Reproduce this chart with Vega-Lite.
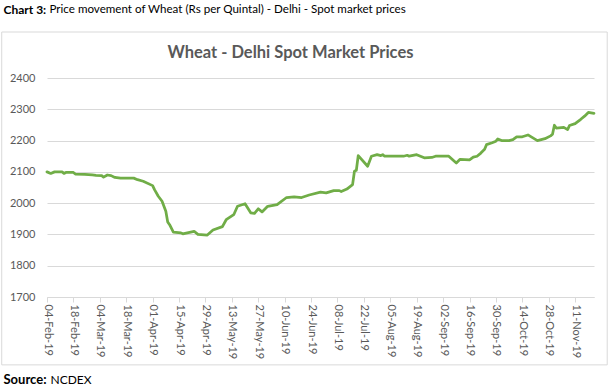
{
  "$schema": "https://vega.github.io/schema/vega-lite/v6.json",
  "width": 547,
  "height": 219,
  "autosize": "none",
  "padding": {"left": 47, "top": 78, "right": 19, "bottom": 91},
  "background": "white",
  "config": {"view": {"stroke": null}, "font": "Lato"},
  "title": {
    "text": "Wheat - Delhi Spot Market Prices",
    "font": "Lato",
    "fontSize": 16.5,
    "fontWeight": "bold",
    "color": "#595959",
    "anchor": "middle",
    "frame": "group",
    "baseline": "bottom",
    "dx": -30,
    "offset": -74
  },
  "layer": [
    {
      "data": {"values": [{"box": "frame"}]},
      "mark": {"type": "rect", "fill": null, "stroke": "#d9d9d9", "strokeWidth": 1},
      "encoding": {
        "x": {
          "datum": {"year": 2019, "month": "jan", "date": 11},
          "type": "temporal",
          "scale": {"domain": [{"year": 2019, "month": "feb", "date": 4}, {"year": 2019, "month": "nov", "date": 21}]},
          "axis": {
            "orient": "top",
            "labels": false,
            "ticks": false,
            "domain": false,
            "grid": false,
            "title": "NCDEX",
            "titleFont": "Lato",
            "titleFontSize": 12,
            "titleFontWeight": "normal",
            "titleColor": "#000000",
            "titleX": 3,
            "titleY": 301,
            "titleAlign": "left",
            "titleAngle": 0,
            "titleBaseline": "middle"
          }
        },
        "x2": {"datum": {"year": 2019, "month": "nov", "date": 28}},
        "y": {
          "datum": 2547,
          "type": "quantitative",
          "scale": {"domain": [1700, 2400], "zero": false, "nice": false},
          "axis": {
            "orient": "right",
            "labels": false,
            "ticks": false,
            "domain": false,
            "grid": false,
            "title": "Price movement of Wheat (Rs per Quintal) - Delhi - Spot market prices",
            "titleFont": "Lato",
            "titleFontSize": 11.6,
            "titleFontWeight": "normal",
            "titleColor": "#000000",
            "titleX": -545,
            "titleY": -69,
            "titleAlign": "left",
            "titleAngle": 0,
            "titleBaseline": "middle"
          }
        },
        "y2": {"datum": 1483}
      }
    },
    {
      "data": {
        "values": [
          {"date": "2019-02-04T00:00:00", "price": 2100},
          {"date": "2019-02-06T00:00:00", "price": 2095},
          {"date": "2019-02-08T00:00:00", "price": 2100},
          {"date": "2019-02-12T00:00:00", "price": 2100},
          {"date": "2019-02-13T00:00:00", "price": 2095},
          {"date": "2019-02-14T00:00:00", "price": 2098},
          {"date": "2019-02-18T00:00:00", "price": 2098},
          {"date": "2019-02-19T00:00:00", "price": 2093},
          {"date": "2019-02-24T00:00:00", "price": 2092},
          {"date": "2019-02-28T00:00:00", "price": 2090},
          {"date": "2019-03-02T00:00:00", "price": 2089},
          {"date": "2019-03-05T00:00:00", "price": 2088},
          {"date": "2019-03-06T00:00:00", "price": 2083},
          {"date": "2019-03-08T00:00:00", "price": 2090},
          {"date": "2019-03-10T00:00:00", "price": 2088},
          {"date": "2019-03-12T00:00:00", "price": 2082},
          {"date": "2019-03-15T00:00:00", "price": 2080},
          {"date": "2019-03-22T00:00:00", "price": 2080},
          {"date": "2019-03-24T00:00:00", "price": 2075},
          {"date": "2019-03-27T00:00:00", "price": 2070},
          {"date": "2019-04-01T00:00:00", "price": 2056},
          {"date": "2019-04-02T00:00:00", "price": 2043},
          {"date": "2019-04-04T00:00:00", "price": 2022},
          {"date": "2019-04-06T00:00:00", "price": 2006},
          {"date": "2019-04-08T00:00:00", "price": 1974},
          {"date": "2019-04-09T00:00:00", "price": 1940},
          {"date": "2019-04-10T00:00:00", "price": 1931},
          {"date": "2019-04-12T00:00:00", "price": 1907},
          {"date": "2019-04-16T00:00:00", "price": 1905},
          {"date": "2019-04-17T00:00:00", "price": 1902},
          {"date": "2019-04-23T00:00:00", "price": 1910},
          {"date": "2019-04-25T00:00:00", "price": 1900},
          {"date": "2019-04-30T00:00:00", "price": 1898},
          {"date": "2019-05-03T00:00:00", "price": 1914},
          {"date": "2019-05-08T00:00:00", "price": 1925},
          {"date": "2019-05-10T00:00:00", "price": 1947},
          {"date": "2019-05-14T00:00:00", "price": 1963},
          {"date": "2019-05-16T00:00:00", "price": 1990},
          {"date": "2019-05-20T00:00:00", "price": 1998},
          {"date": "2019-05-23T00:00:00", "price": 1969},
          {"date": "2019-05-25T00:00:00", "price": 1967},
          {"date": "2019-05-27T00:00:00", "price": 1982},
          {"date": "2019-05-29T00:00:00", "price": 1972},
          {"date": "2019-06-01T00:00:00", "price": 1990},
          {"date": "2019-06-06T00:00:00", "price": 1995},
          {"date": "2019-06-11T00:00:00", "price": 2018},
          {"date": "2019-06-15T00:00:00", "price": 2020},
          {"date": "2019-06-19T00:00:00", "price": 2018},
          {"date": "2019-06-23T00:00:00", "price": 2026},
          {"date": "2019-06-29T00:00:00", "price": 2035},
          {"date": "2019-07-02T00:00:00", "price": 2033},
          {"date": "2019-07-06T00:00:00", "price": 2040},
          {"date": "2019-07-09T00:00:00", "price": 2040},
          {"date": "2019-07-10T00:00:00", "price": 2037},
          {"date": "2019-07-13T00:00:00", "price": 2045},
          {"date": "2019-07-16T00:00:00", "price": 2059},
          {"date": "2019-07-17T00:00:00", "price": 2102},
          {"date": "2019-07-18T00:00:00", "price": 2105},
          {"date": "2019-07-19T00:00:00", "price": 2152},
          {"date": "2019-07-24T00:00:00", "price": 2118},
          {"date": "2019-07-26T00:00:00", "price": 2150},
          {"date": "2019-07-29T00:00:00", "price": 2155},
          {"date": "2019-07-31T00:00:00", "price": 2152},
          {"date": "2019-08-01T00:00:00", "price": 2155},
          {"date": "2019-08-02T00:00:00", "price": 2150},
          {"date": "2019-08-12T00:00:00", "price": 2150},
          {"date": "2019-08-14T00:00:00", "price": 2153},
          {"date": "2019-08-15T00:00:00", "price": 2150},
          {"date": "2019-08-19T00:00:00", "price": 2155},
          {"date": "2019-08-23T00:00:00", "price": 2145},
          {"date": "2019-08-27T00:00:00", "price": 2146},
          {"date": "2019-08-29T00:00:00", "price": 2150},
          {"date": "2019-09-05T00:00:00", "price": 2150},
          {"date": "2019-09-09T00:00:00", "price": 2128},
          {"date": "2019-09-11T00:00:00", "price": 2140},
          {"date": "2019-09-16T00:00:00", "price": 2138},
          {"date": "2019-09-18T00:00:00", "price": 2147},
          {"date": "2019-09-20T00:00:00", "price": 2150},
          {"date": "2019-09-22T00:00:00", "price": 2160},
          {"date": "2019-09-24T00:00:00", "price": 2172},
          {"date": "2019-09-25T00:00:00", "price": 2187},
          {"date": "2019-09-28T00:00:00", "price": 2193},
          {"date": "2019-09-30T00:00:00", "price": 2198},
          {"date": "2019-10-01T00:00:00", "price": 2205},
          {"date": "2019-10-03T00:00:00", "price": 2200},
          {"date": "2019-10-07T00:00:00", "price": 2200},
          {"date": "2019-10-09T00:00:00", "price": 2203},
          {"date": "2019-10-11T00:00:00", "price": 2212},
          {"date": "2019-10-14T00:00:00", "price": 2212},
          {"date": "2019-10-17T00:00:00", "price": 2218},
          {"date": "2019-10-22T00:00:00", "price": 2200},
          {"date": "2019-10-26T00:00:00", "price": 2206},
          {"date": "2019-10-29T00:00:00", "price": 2215},
          {"date": "2019-10-30T00:00:00", "price": 2220},
          {"date": "2019-10-31T00:00:00", "price": 2249},
          {"date": "2019-11-01T00:00:00", "price": 2240},
          {"date": "2019-11-05T00:00:00", "price": 2242},
          {"date": "2019-11-07T00:00:00", "price": 2235},
          {"date": "2019-11-08T00:00:00", "price": 2248},
          {"date": "2019-11-11T00:00:00", "price": 2254},
          {"date": "2019-11-14T00:00:00", "price": 2268},
          {"date": "2019-11-16T00:00:00", "price": 2278},
          {"date": "2019-11-18T00:00:00", "price": 2290},
          {"date": "2019-11-21T00:00:00", "price": 2287}
        ]
      },
      "mark": {"type": "line", "color": "#70ad47", "strokeWidth": 2.75, "strokeJoin": "round", "strokeCap": "round"},
      "encoding": {
        "x": {
          "field": "date",
          "type": "temporal",
          "scale": {"domain": [{"year": 2019, "month": "feb", "date": 4}, {"year": 2019, "month": "nov", "date": 21}]},
          "axis": {
            "orient": "bottom",
            "values": [
              {"year": 2019, "month": "feb", "date": 4},
              {"year": 2019, "month": "feb", "date": 18},
              {"year": 2019, "month": "mar", "date": 4},
              {"year": 2019, "month": "mar", "date": 18},
              {"year": 2019, "month": "apr", "date": 1},
              {"year": 2019, "month": "apr", "date": 15},
              {"year": 2019, "month": "apr", "date": 29},
              {"year": 2019, "month": "may", "date": 13},
              {"year": 2019, "month": "may", "date": 27},
              {"year": 2019, "month": "jun", "date": 10},
              {"year": 2019, "month": "jun", "date": 24},
              {"year": 2019, "month": "jul", "date": 8},
              {"year": 2019, "month": "jul", "date": 22},
              {"year": 2019, "month": "aug", "date": 5},
              {"year": 2019, "month": "aug", "date": 19},
              {"year": 2019, "month": "sep", "date": 2},
              {"year": 2019, "month": "sep", "date": 16},
              {"year": 2019, "month": "sep", "date": 30},
              {"year": 2019, "month": "oct", "date": 14},
              {"year": 2019, "month": "oct", "date": 28},
              {"year": 2019, "month": "nov", "date": 11}
            ],
            "format": "%d-%b-%y",
            "labelAngle": 90,
            "labelAlign": "left",
            "labelBaseline": "middle",
            "labelFont": "Lato",
            "labelFontSize": 11,
            "labelColor": "#595959",
            "labelPadding": 2,
            "labelFlush": false,
            "labelOverlap": false,
            "tickSize": 5,
            "tickColor": "#d9d9d9",
            "domainColor": "#d9d9d9",
            "grid": false,
            "title": "Source:",
            "titleFont": "Lato",
            "titleFontSize": 13,
            "titleFontWeight": "bold",
            "titleColor": "#000000",
            "titleX": -44,
            "titleY": 82,
            "titleAlign": "left",
            "titleAngle": 0,
            "titleBaseline": "middle"
          }
        },
        "y": {
          "field": "price",
          "type": "quantitative",
          "scale": {"domain": [1700, 2400], "zero": false, "nice": false},
          "axis": {
            "orient": "left",
            "values": [1700, 1800, 1900, 2000, 2100, 2200, 2300, 2400],
            "format": "d",
            "grid": true,
            "gridColor": "#d9d9d9",
            "domain": false,
            "ticks": false,
            "labelPadding": 12,
            "labelFont": "Lato",
            "labelFontSize": 11,
            "labelColor": "#595959",
            "title": "Chart 3:",
            "titleFont": "Lato",
            "titleFontSize": 12,
            "titleFontWeight": "bold",
            "titleColor": "#000000",
            "titleX": -44,
            "titleY": -69,
            "titleAlign": "left",
            "titleAngle": 0,
            "titleBaseline": "middle"
          }
        }
      }
    }
  ],
  "resolve": {"axis": {"x": "independent", "y": "independent"}}
}
